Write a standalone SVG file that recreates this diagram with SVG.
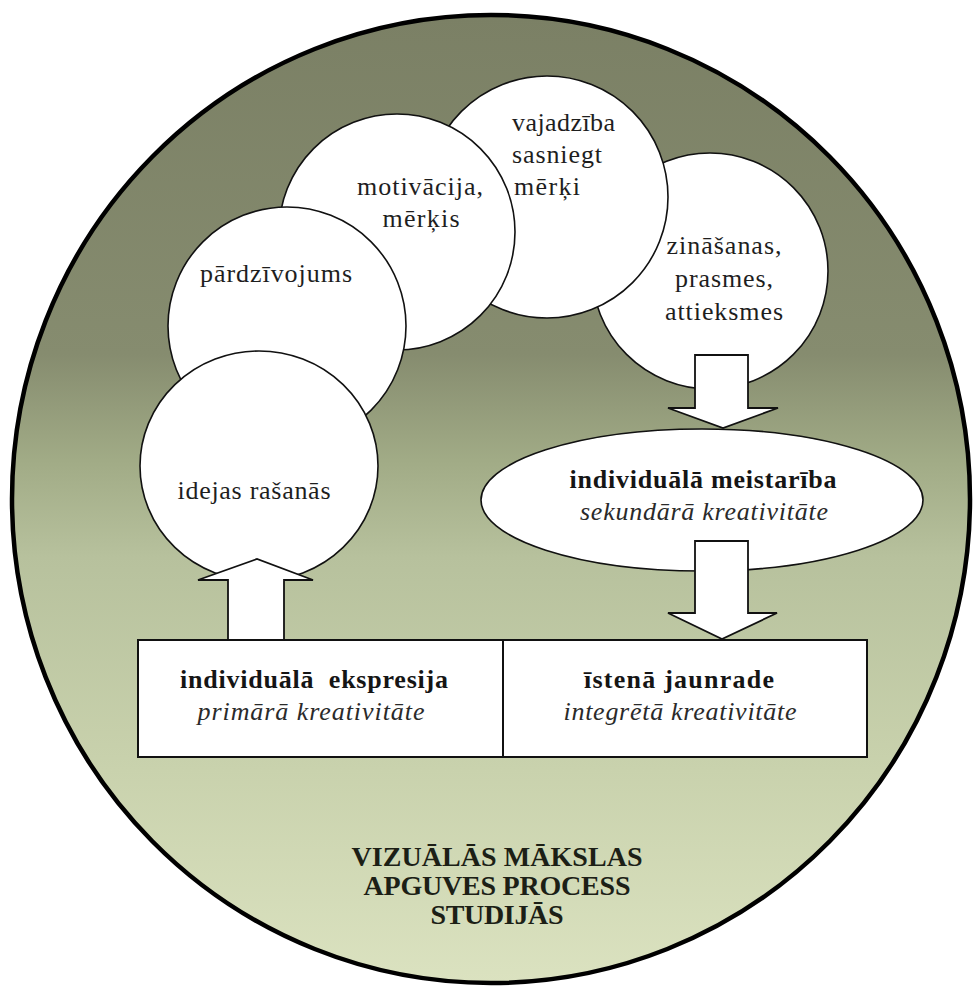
<svg xmlns="http://www.w3.org/2000/svg" width="975" height="987" viewBox="0 0 975 987">
  <defs>
    <linearGradient id="bgGrad" x1="0" y1="0" x2="0" y2="1">
      <stop offset="0" stop-color="#7b8065"/>
      <stop offset="0.35" stop-color="#868c6f"/>
      <stop offset="0.46" stop-color="#a1ab86"/>
      <stop offset="0.56" stop-color="#b7c19d"/>
      <stop offset="0.78" stop-color="#c9d2ad"/>
      <stop offset="1" stop-color="#dbe2c0"/>
    </linearGradient>
    <style>
      .bubble { fill: #ffffff; stroke: #111111; stroke-width: 1.6; }
      .box { fill: #ffffff; stroke: #111111; stroke-width: 2; }
      .arrow { fill: #ffffff; stroke: #111111; stroke-width: 1.8; stroke-linejoin: miter; }
      .t { font-family: "Liberation Serif", "Times New Roman", serif; font-size: 26px; fill: #1e1e1e; }
      .c { text-anchor: middle; }
      .b { font-weight: bold; fill: #151515; }
      .i { font-style: italic; fill: #2a2a2a; }
      .title { font-family: "Liberation Serif", "Times New Roman", serif; font-size: 28px; font-weight: bold; fill: #1c1f16; text-anchor: middle; }
    </style>
  </defs>

  <!-- background disc -->
  <g id="process">
    <ellipse cx="491" cy="499" rx="479" ry="484" fill="url(#bgGrad)" stroke="#000000" stroke-width="4.5"/>
    <text class="title" x="497" y="866" textLength="291">VIZUĀLĀS MĀKSLAS</text>
    <text class="title" x="497" y="895" textLength="267">APGUVES PROCESS</text>
    <text class="title" x="497" y="924" textLength="133">STUDIJĀS</text>
  </g>

  <!-- bubbles, back to front -->
  <g id="zinasanas">
    <circle class="bubble" cx="710" cy="271" r="118"/>
    <text class="t c" x="724" y="254" textLength="115">zināšanas,</text>
    <text class="t c" x="724" y="287" textLength="98">prasmes,</text>
    <text class="t c" x="724" y="320" textLength="118">attieksmes</text>
  </g>

  <g id="vajadziba">
    <circle class="bubble" cx="547" cy="197" r="121"/>
    <text class="t" x="512" y="131" textLength="103">vajadzība</text>
    <text class="t" x="512" y="163" textLength="90">sasniegt</text>
    <text class="t" x="514" y="195" textLength="66">mērķi</text>
  </g>

  <g id="motivacija">
    <circle class="bubble" cx="397" cy="232" r="118"/>
    <text class="t c" x="420" y="195" textLength="126">motivācija,</text>
    <text class="t c" x="421" y="227" textLength="77">mērķis</text>
  </g>

  <g id="pardzivojums">
    <circle class="bubble" cx="287" cy="326" r="119"/>
    <text class="t c" x="276" y="282" textLength="152">pārdzīvojums</text>
  </g>

  <g id="idejas">
    <ellipse class="bubble" cx="259" cy="466" rx="119" ry="115"/>
    <text class="t c" x="254" y="499" textLength="153">idejas rašanās</text>
  </g>

  <g id="meistariba">
    <ellipse class="bubble" cx="702" cy="500" rx="221" ry="71"/>
    <text class="t c b" x="703" y="488" textLength="267">individuālā meistarība</text>
    <text class="t c i" x="704" y="520" textLength="248">sekundārā kreativitāte</text>
  </g>

  <g id="ekspresija">
    <rect class="box" x="138" y="640" width="365" height="117"/>
    <text class="t c b" x="314" y="688" textLength="268" xml:space="preserve">individuālā  ekspresija</text>
    <text class="t c i" x="311" y="720" textLength="227">primārā kreativitāte</text>
  </g>

  <g id="jaunrade">
    <rect class="box" x="503" y="640" width="364" height="117"/>
    <text class="t c b" x="679" y="688" textLength="190">īstenā jaunrade</text>
    <text class="t c i" x="680" y="720" textLength="233">integrētā kreativitāte</text>
  </g>

  <!-- block arrows -->
  <g id="connectors">
    <polygon class="arrow" points="228,640 228,580 198,580 257,559 313,580 284,580 284,640"/>
    <polygon class="arrow" points="695,355 748,355 748,408 778,408 723,428 668,408 695,408"/>
    <polygon class="arrow" points="695,541 748,541 748,613 777,613 722,639 668,613 695,613"/>
  </g>
</svg>
